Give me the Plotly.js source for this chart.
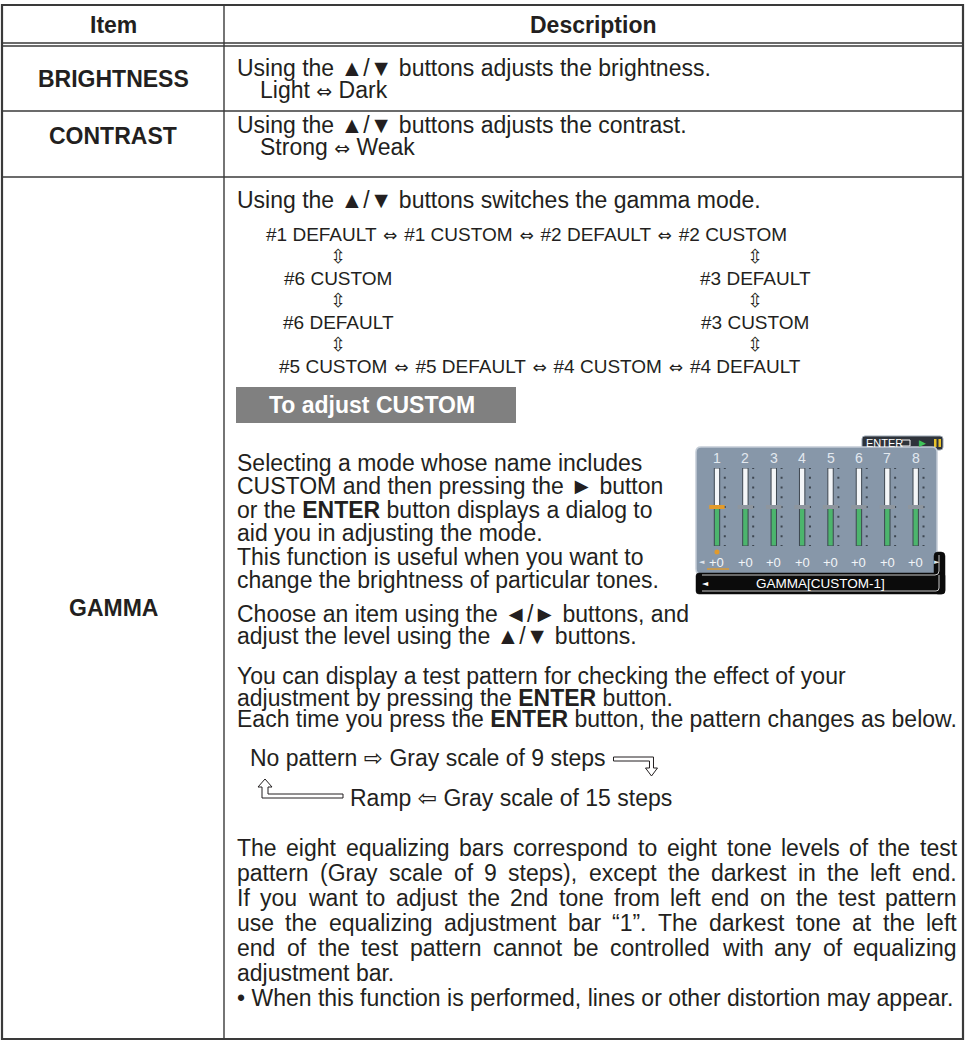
<!DOCTYPE html>
<html>
<head>
<meta charset="utf-8">
<script src="https://cdn.plot.ly/plotly-3.0.1.min.js"></script>
<style>
html,body{margin:0;padding:0;background:#ffffff;}
#chart{width:967px;height:1041px;}
</style>
</head>
<body>
<div id="chart"></div>
<script>
// ---------------- data ----------------
const headerLabels = ['Item', 'Description'];
const itemNames = ['BRIGHTNESS', 'CONTRAST', 'GAMMA'];
const brightnessText = ['Using the ▲/▼ buttons adjusts the brightness.', ['Light', 'Dark']];
const contrastText = ['Using the ▲/▼ buttons adjusts the contrast.', ['Strong', 'Weak']];
const gammaIntro = 'Using the ▲/▼ buttons switches the gamma mode.';
const cycleTop = ['#1 DEFAULT', '#1 CUSTOM', '#2 DEFAULT', '#2 CUSTOM'];
const cycleLeft = ['#6 CUSTOM', '#6 DEFAULT'];
const cycleRight = ['#3 DEFAULT', '#3 CUSTOM'];
const cycleBottom = ['#5 CUSTOM', '#5 DEFAULT', '#4 CUSTOM', '#4 DEFAULT'];
const customTitle = 'To adjust CUSTOM';
const customPara = [
  'Selecting a mode whose name includes',
  'CUSTOM and then pressing the ► button',
  'or the <b>ENTER</b> button displays a dialog to',
  'aid you in adjusting the mode.',
  'This function is useful when you want to',
  'change the brightness of particular tones.'
];
const choosePara = [
  'Choose an item using the ◄/► buttons, and',
  'adjust the level using the ▲/▼ buttons.'
];
const testPara = [
  'You can display a test pattern for checking the effect of your',
  'adjustment by pressing the <b>ENTER</b> button.',
  'Each time you press the <b>ENTER</b> button, the pattern changes as below.'
];
const patternCycle = ['No pattern ⇨ Gray scale of 9 steps', 'Ramp ⇦ Gray scale of 15 steps'];
const barPara = [
  'The eight equalizing bars correspond to eight tone levels of the test',
  'pattern (Gray scale of 9 steps), except the darkest in the left end.',
  'If you want to adjust the 2nd tone from left end on the test pattern',
  'use the equalizing adjustment bar “1”. The darkest tone at the left',
  'end of the test pattern cannot be controlled with any of equalizing',
  'adjustment bar.',
  '• When this function is performed, lines or other distortion may appear.'
];
const barParaJustified = [true, true, true, true, true, false, false];
const eqBands = [1, 2, 3, 4, 5, 6, 7, 8];
const eqLevels = [0, 0, 0, 0, 0, 0, 0, 0];
const eqLevelLabels = ['+0', '+0', '+0', '+0', '+0', '+0', '+0', '+0'];
const eqTickLevels = [-8, -6, -4, -2, 0, 2, 4, 6, 8];
const eqSelected = 1;
const screenTitle = 'GAMMA[CUSTOM-1]';
const screenKey = 'ENTER';

// ---------------- layout constants ----------------
const W = 967, H = 1041;
const FONT = '"Liberation Sans", Arial, Helvetica, "DejaVu Sans", sans-serif';
const NARROW = '"Liberation Sans Narrow", "Liberation Sans", Arial, sans-serif';
const SYM = '"DejaVu Sans", sans-serif';
const INK = '#231f20';
const RULE = '#3a3a3a';
const BODY = 23, DIAG = 19;
const T = {left: 2, right: 963, top: 5, bottom: 1039, col: 224, head1: 43, head2: 46, row1: 111, row2: 177};
const TX = 236, TXR = 956;
const EQ = {x0: 702.8, x1: 929.9, y0: 468, y1: 546};

const ann = [];
const shp = [];

function arrowSpan(ch, size) {
  return '<span style="font-family:DejaVu Sans;font-size:' + size + 'px">' + ch + '</span>';
}
function txt(x, y, text, o) {
  o = o || {};
  ann.push({
    x: x, y: y, xref: o.xref || 'x', yref: o.yref || 'y', text: text, showarrow: false,
    xanchor: o.xanchor || 'left', yanchor: 'middle', borderpad: 0,
    font: {family: o.family || FONT, size: o.size || BODY, color: o.color || INK}
  });
}
function hline(x0, x1, y, w, c) {
  shp.push({type: 'line', xref: 'x', yref: 'y', x0: x0, x1: x1, y0: y, y1: y, line: {color: c || RULE, width: w || 1.3}});
}
function vline(x, y0, y1, w, c) {
  shp.push({type: 'line', xref: 'x', yref: 'y', x0: x, x1: x, y0: y0, y1: y1, line: {color: c || RULE, width: w || 1.3}});
}
function rrect(x0, y0, x1, y1, r) {
  return 'M' + (x0 + r) + ',' + y0 + ' L' + (x1 - r) + ',' + y0 + ' Q' + x1 + ',' + y0 + ' ' + x1 + ',' + (y0 + r) +
    ' L' + x1 + ',' + (y1 - r) + ' Q' + x1 + ',' + y1 + ' ' + (x1 - r) + ',' + y1 +
    ' L' + (x0 + r) + ',' + y1 + ' Q' + x0 + ',' + y1 + ' ' + x0 + ',' + (y1 - r) +
    ' L' + x0 + ',' + (y0 + r) + ' Q' + x0 + ',' + y0 + ' ' + (x0 + r) + ',' + y0 + ' Z';
}
function pathShape(d, fill, lc, lw, layer) {
  shp.push({type: 'path', xref: 'x', yref: 'y', path: d, fillcolor: fill || 'rgba(0,0,0,0)',
    line: {color: lc || INK, width: lw === undefined ? 1 : lw}, layer: layer || 'above'});
}

const cv = document.createElement('canvas').getContext('2d');
function mw(s, size, bold) {
  cv.font = (bold ? 'bold ' : '') + size + 'px "Liberation Sans", "DejaVu Sans", sans-serif';
  return cv.measureText(s).width;
}
function justify(s, y, x0, x1) {
  const words = s.split(' ');
  const ws = words.map(function (w) { return mw(w, BODY); });
  const tot = ws.reduce(function (a, b) { return a + b; }, 0);
  const gap = (x1 - x0 - tot) / (words.length - 1);
  let x = x0;
  words.forEach(function (w, i) { txt(x, y, w); x += ws[i] + gap; });
}

// ---------------- table frame ----------------
shp.push({type: 'rect', xref: 'x', yref: 'y', x0: T.left, x1: T.right, y0: T.top, y1: T.bottom,
  line: {color: RULE, width: 2.2}, fillcolor: 'rgba(0,0,0,0)'});
vline(T.col, T.top, T.bottom, 1.4);
hline(T.left, T.right, T.head1, 1.3);
hline(T.left, T.right, T.head2, 1.3);
hline(T.left, T.right, T.row1, 1.4);
hline(T.left, T.right, T.row2, 1.4);

// header
const colItemC = (T.left + T.col) / 2, colDescC = (T.col + T.right) / 2;
txt(colItemC, 25, '<b>' + headerLabels[0] + '</b>', {xanchor: 'center'});
txt(colDescC, 25, '<b>' + headerLabels[1] + '</b>', {xanchor: 'center'});

// item labels
txt(colItemC, 79, '<b>' + itemNames[0] + '</b>', {xanchor: 'center'});
txt(colItemC, 136, '<b>' + itemNames[1] + '</b>', {xanchor: 'center'});
txt(colItemC, 608, '<b>' + itemNames[2] + '</b>', {xanchor: 'center'});

// brightness / contrast
const ARR = arrowSpan('⇔', 19);
txt(TX, 68, brightnessText[0]);
txt(259, 90, brightnessText[1].join(' ' + ARR + ' '));
txt(TX, 125, contrastText[0]);
txt(259, 147, contrastText[1].join(' ' + ARR + ' '));

// gamma intro
txt(TX, 200, gammaIntro);

// gamma cycle diagram
const dg = {family: FONT, size: DIAG};
const SEP = ' \u200A' + arrowSpan('⇔', 17) + '\u200A ';
const colL = 338, colR = 755;
txt(265, 234, cycleTop.join(SEP), dg);
[256, 300, 344].forEach(function (y) {
  txt(colL, y, '⇳', {xanchor: 'center', size: DIAG, family: SYM});
  txt(colR, y, '⇳', {xanchor: 'center', size: DIAG, family: SYM});
});
txt(colL, 278, cycleLeft[0], {xanchor: 'center', size: DIAG});
txt(colL, 322, cycleLeft[1], {xanchor: 'center', size: DIAG});
txt(colR, 278, cycleRight[0], {xanchor: 'center', size: DIAG});
txt(colR, 322, cycleRight[1], {xanchor: 'center', size: DIAG});
txt(278, 366, cycleBottom.join(SEP), dg);

// "To adjust CUSTOM" box
shp.push({type: 'rect', xref: 'x', yref: 'y', x0: TX, x1: 516, y0: 387, y1: 423, fillcolor: '#808080', line: {width: 0}});
txt(268, 405, '<b>' + customTitle + '</b>', {color: '#ffffff'});

// custom paragraph
customPara.forEach(function (s, i) { txt(TX, 463 + i * 23.4, s); });
choosePara.forEach(function (s, i) { txt(TX, 614 + i * 22, s); });
testPara.forEach(function (s, i) { txt(TX, 676 + i * 21.5, s); });

// pattern cycle
const pY1 = 758, pY2 = 798;
txt(249, pY1, patternCycle[0]);
const aX0 = 249 + mw(patternCycle[0], BODY) + 9, aX1 = aX0 + 40;
pathShape('M' + aX0 + ',' + (pY1 - 1) + ' L' + aX1 + ',' + (pY1 - 1) + ' L' + aX1 + ',' + (pY1 + 10) +
  ' L' + (aX1 + 4) + ',' + (pY1 + 10) + ' L' + (aX1 - 2) + ',' + (pY1 + 18) + ' L' + (aX1 - 8) + ',' + (pY1 + 10) +
  ' L' + (aX1 - 4) + ',' + (pY1 + 10) + ' L' + (aX1 - 4) + ',' + (pY1 + 3) + ' L' + aX0 + ',' + (pY1 + 3) + ' Z',
  '#ffffff', INK, 1);
const rampX = 349;
pathShape('M265,' + (pY2 - 19) + ' L272,' + (pY2 - 11) + ' L268,' + (pY2 - 11) + ' L268,' + (pY2 - 4) +
  ' L' + (rampX - 6) + ',' + (pY2 - 4) + ' L' + (rampX - 6) + ',' + pY2 + ' L262,' + pY2 + ' L262,' + (pY2 - 11) +
  ' L258,' + (pY2 - 11) + ' Z', '#ffffff', INK, 1);
txt(rampX, pY2, patternCycle[1]);

// equalizing bars paragraph
barPara.forEach(function (s, i) {
  const y = 848 + i * 25;
  if (barParaJustified[i]) justify(s, y, TX, TXR); else txt(TX, y, s);
});

// ---------------- GUI screenshot ----------------
const eqPitch = (EQ.x1 - EQ.x0) / eqBands.length;
function eqX(i) { return EQ.x0 + (i + 0.5) * eqPitch; }
// ENTER key tag
pathShape(rrect(862, 436, 943, 450, 3), '#2e333a', '#9aa6b2', 1, 'below');
txt(865, 443, screenKey, {size: 11, color: '#ffffff', family: NARROW});
pathShape('M902,440 L910,440 L910,446 L900,446', 'rgba(0,0,0,0)', '#ffffff', 1, 'below');
txt(922, 443, '▶', {size: 9, color: '#3ec45a', xanchor: 'center', family: SYM});
shp.push({type: 'rect', xref: 'x', yref: 'y', x0: 934, x1: 936.5, y0: 439, y1: 447, fillcolor: '#e8c22a', line: {width: 0}, layer: 'below'});
shp.push({type: 'rect', xref: 'x', yref: 'y', x0: 938.5, x1: 941, y0: 439, y1: 447, fillcolor: '#e8c22a', line: {width: 0}, layer: 'below'});
// panel
pathShape(rrect(696, 447, 937, 574, 5), '#8797a9', '#c3ccd6', 1.5, 'below');
// black frame
pathShape(rrect(934, 552, 945, 594, 4), '#0b0b0b', '#0b0b0b', 0.5, 'below');
pathShape(rrect(696, 573, 945, 594, 3), '#0b0b0b', '#0b0b0b', 0.5, 'below');
pathShape('M702,575 L935,575 Q939,575 939,571 L939,555 M939,575 L939,588 Q939,591 936,591 L702,591',
  'rgba(0,0,0,0)', '#c9c9c9', 1, 'below');
txt(701, 583, '◄', {size: 8, color: '#ffffff', family: SYM});
txt(820, 583, screenTitle, {size: 13.5, color: '#ffffff', family: NARROW, xanchor: 'center'});
// band numbers and level labels
eqBands.forEach(function (b, i) {
  txt(b, 458, String(b), {xref: 'x2', xanchor: 'center', size: 14, color: '#e2e8ef', family: NARROW});
  txt(b, 562, eqLevelLabels[i], {xref: 'x2', xanchor: 'center', size: 13, color: '#f2f5f8', family: NARROW});
  eqTickLevels.forEach(function (t) {
    shp.push({type: 'rect', xref: 'x2', yref: 'y2', x0: b + 0.24, x1: b + 0.31, y0: t - 0.22, y1: t + 0.22,
      fillcolor: '#3d4650', line: {width: 0}, layer: 'below'});
  });
});
txt(698, 562, '◄', {size: 7, color: '#dde3ea', family: SYM});
txt(933, 562, '►', {size: 7, color: '#dde3ea', family: SYM});
hline(eqX(eqSelected - 1) - 10, eqX(eqSelected - 1) + 12, 569, 1.5, '#d99a35');

const traces = [
  {type: 'scatter', mode: 'markers', x: [eqX(eqSelected - 1)], y: [552], xaxis: 'x', yaxis: 'y',
    marker: {symbol: 'circle', size: 5, color: '#e09a2c'}, hoverinfo: 'skip', cliponaxis: false},
  {type: 'bar', x: eqBands, y: eqLevels.map(function (v) { return v + 8; }), base: -8, width: 0.19,
    xaxis: 'x2', yaxis: 'y2', marker: {color: '#4cb56d', line: {color: '#3d4650', width: 1}}, hoverinfo: 'skip', cliponaxis: false},
  {type: 'bar', x: eqBands, y: eqLevels.map(function (v) { return 8 - v; }), base: eqLevels, width: 0.19,
    xaxis: 'x2', yaxis: 'y2', marker: {color: '#f4f6f8', line: {color: '#3d4650', width: 1}}, hoverinfo: 'skip', cliponaxis: false},
  {type: 'scatter', mode: 'markers', x: eqBands, y: eqLevels, xaxis: 'x2', yaxis: 'y2', hoverinfo: 'skip', cliponaxis: false,
    marker: {symbol: 'line-ew', size: 11,
      line: {width: 4, color: eqBands.map(function (b) { return b === eqSelected ? '#e39b2b' : '#8e969f'; })}}}
];

const layout = {
  width: W, height: H, margin: {l: 0, r: 0, t: 0, b: 0, pad: 0},
  paper_bgcolor: '#ffffff', plot_bgcolor: 'rgba(0,0,0,0)', showlegend: false,
  font: {family: FONT, color: INK, size: BODY}, barmode: 'overlay',
  xaxis: {range: [0, W], visible: false, fixedrange: true},
  yaxis: {range: [H, 0], visible: false, fixedrange: true},
  xaxis2: {domain: [EQ.x0 / W, EQ.x1 / W], range: [0.5, 8.5], visible: false, anchor: 'y2', fixedrange: true},
  yaxis2: {domain: [1 - EQ.y1 / H, 1 - EQ.y0 / H], range: [-8, 8], visible: false, anchor: 'x2', fixedrange: true},
  shapes: shp, annotations: ann
};

Plotly.newPlot('chart', traces, layout, {staticPlot: true, displayModeBar: false});
</script>
</body>
</html>
